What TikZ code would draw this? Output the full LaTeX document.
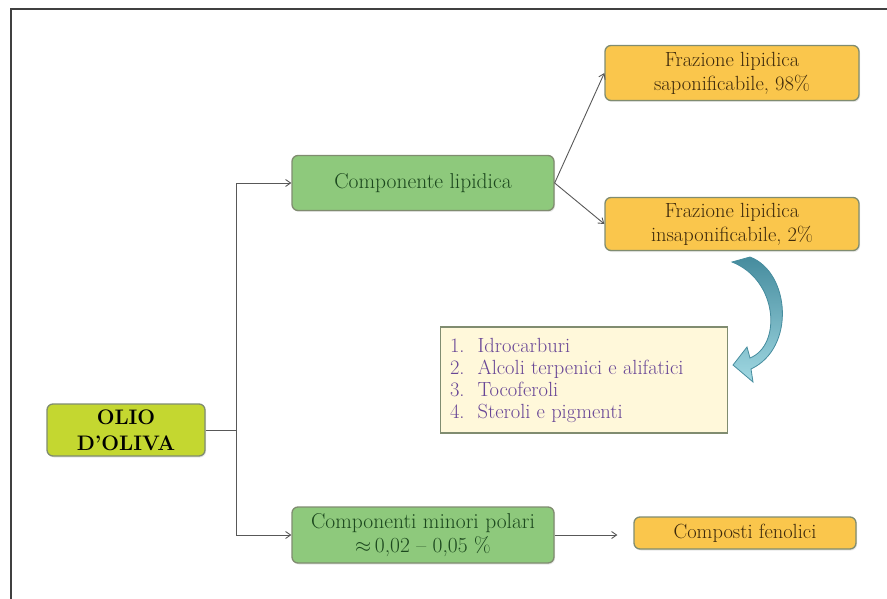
\documentclass[tikz,border=0pt]{standalone}
\usepackage{tikz}
\usetikzlibrary{arrows.meta,positioning,shadows}

\definecolor{oliveyellow}{RGB}{196,215,48}
\definecolor{leafgreen}{RGB}{142,201,124}
\definecolor{darkleaf}{RGB}{28,72,30}
\definecolor{amber}{RGB}{250,198,76}
\definecolor{darkamber}{RGB}{62,42,12}
\definecolor{cream}{RGB}{255,248,218}
\definecolor{plum}{RGB}{104,70,150}
\definecolor{boxedge}{RGB}{128,140,112}
\definecolor{linegray}{RGB}{88,88,88}
\definecolor{swirl}{RGB}{160,216,226}
\definecolor{swirledge}{RGB}{70,140,158}

\begin{document}
\begin{tikzpicture}[
    x=1pt, y=-1pt,
    font=\fontsize{20.5}{24}\selectfont,
    box/.style={draw=boxedge, line width=1.3pt, rounded corners=6pt, align=center,
      inner sep=2pt, drop shadow={opacity=0.18, shadow xshift=1pt, shadow yshift=-1.5pt}},
    olivebox/.style={box, fill=oliveyellow, text=black, font=\fontsize{21}{26}\selectfont\bfseries},
    greenbox/.style={box, fill=leafgreen, text=darkleaf, font=\fontsize{21.5}{24}\selectfont},
    amberbox/.style={box, fill=amber, text=darkamber},
    listbox/.style={draw=boxedge, line width=1.3pt, fill=cream, align=left,
      inner sep=0pt, minimum width=287, minimum height=106},
    conn/.style={draw=linegray, line width=0.9pt},
    arr/.style={conn, -{Straight Barb[length=5pt,width=7pt]}}
  ]

  \useasboundingbox (0,0) rectangle (887,599);

  % Frame
  \draw[line width=1.6pt, black!75] (887,9) -- (11,9) -- (11,599);

  % Boxes
  \node[olivebox, minimum width=158, minimum height=52] (olio) at (126,430) {OLIO\\D'OLIVA};
  \node[greenbox, minimum width=262, minimum height=55] (complip) at (423,183) {Componente lipidica};
  \node[greenbox, minimum width=262, minimum height=56] (compmin) at (423,535) {Componenti minori polari\\$\approx$\,0,02 -- 0,05 \%};
  \node[amberbox, minimum width=254, minimum height=55] (sapon) at (732,73) {Frazione lipidica\\saponificabile, 98\%};
  \node[amberbox, minimum width=254, minimum height=53] (insap) at (732,224) {Frazione lipidica\\insaponificabile, 2\%};
  \node[amberbox, minimum width=222, minimum height=32] (fenol) at (745,533) {Composti fenolici};
  \node[listbox] (lista) at (584,380) {};
  \node[text=plum, anchor=west, align=left, inner sep=0pt,
        font=\fontsize{20.5}{22}\selectfont] (voci) at ([xshift=10pt,yshift=-1pt]lista.west)
    {\begin{tabular}{@{}l@{\hspace{13pt}}l@{}}
      1. & Idrocarburi\\
      2. & Alcoli terpenici e alifatici\\
      3. & Tocoferoli\\
      4. & Steroli e pigmenti
    \end{tabular}};

  % Connectors
  \coordinate (split) at (236,430);
  \draw[conn] (olio.east) -- (split);
  \draw[arr] (split) |- (complip.west);
  \draw[arr] (split) |- (compmin.west);
  \draw[arr] (complip.east) -- (sapon.west);
  \draw[arr] (complip.east) -- (insap.west);
  \draw[arr, shorten >=16pt] (compmin.east) -- (compmin.east -| fenol.west);

  % Curved arrow towards the list
  \path[draw=swirledge, line width=0.8pt, top color=swirledge, bottom color=swirl]
    (750,257) .. controls (790,272) and (796,348) .. (751,369)
    -- (753,382) -- (733,365) -- (747,347) -- (750,358)
    .. controls (782,345) and (778,280) .. (732,262) -- cycle;

\end{tikzpicture}
\end{document}
